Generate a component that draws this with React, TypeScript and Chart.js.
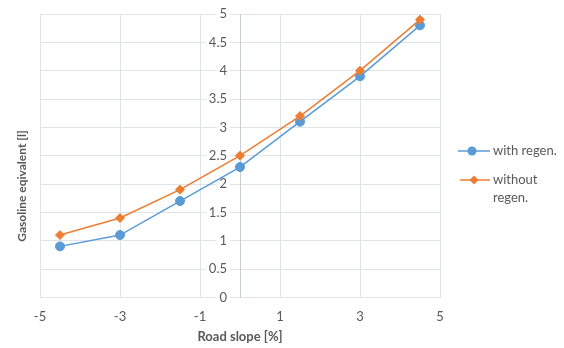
import { useEffect, useRef } from "react";
import { Chart, registerables } from "chart.js";

Chart.register(...registerables);

// Road slope [%] at which fuel use was evaluated
const slopes = [-4.5, -3, -1.5, 0, 1.5, 3, 4.5];
// Gasoline equivalent [l]
const withRegen = [0.9, 1.1, 1.7, 2.3, 3.1, 3.9, 4.8];
const withoutRegen = [1.1, 1.4, 1.9, 2.5, 3.2, 4.0, 4.9];

const seriesNames = ["with regen.", "without regen."];
const legendLines = [["with regen."], ["without", "regen."]];
const xTitle = "Road slope [%]";
const yTitle = "Gasoline eqivalent [l]";

const BLUE = "#5b9bd5";
const ORANGE = "#ed7d31";
const TEXT = "#595959";
const GRID = "#e0e3ea";
const FONT = "Lato, 'Open Sans', sans-serif";
// two en spaces keep the value labels clear of the centred axis line
const LABEL_GAP = "\u2002\u2002";

function drawMarker(ctx: CanvasRenderingContext2D, style: string, x: number, y: number, r: number) {
  ctx.beginPath();
  if (style === "circle") {
    ctx.arc(x, y, r, 0, Math.PI * 2);
  } else {
    ctx.moveTo(x, y - r);
    ctx.lineTo(x + r, y);
    ctx.lineTo(x, y + r);
    ctx.lineTo(x - r, y);
    ctx.closePath();
  }
  ctx.fill();
}

// Draws both axis titles and the wrapped legend on the right
const sideTextPlugin = {
  id: "sideText",
  afterDraw(chart: Chart) {
    const { ctx, chartArea } = chart;
    ctx.save();

    ctx.fillStyle = TEXT;
    ctx.textAlign = "center";
    ctx.textBaseline = "middle";

    ctx.font = `bold 13px ${FONT}`;
    ctx.fillText(xTitle, (chartArea.left + chartArea.right) / 2, chartArea.bottom + 39);

    ctx.font = `bold 12px ${FONT}`;
    ctx.translate(22, chartArea.top + 172);
    ctx.rotate(-Math.PI / 2);
    ctx.fillText(yTitle, 0, 0);
    ctx.setTransform(1, 0, 0, 1, 0, 0);

    const colors = [BLUE, ORANGE];
    const styles = ["circle", "rectRot"];
    const rowY = [chartArea.top + 137, chartArea.top + 166];
    const x0 = chartArea.right + 18;
    ctx.font = `13px ${FONT}`;
    ctx.textAlign = "left";
    legendLines.forEach((lines, i) => {
      const y = rowY[i];
      ctx.strokeStyle = colors[i];
      ctx.lineWidth = 1.5;
      ctx.beginPath();
      ctx.moveTo(x0 + (i === 0 ? 0 : 2), y);
      ctx.lineTo(x0 + 32, y);
      ctx.stroke();
      ctx.fillStyle = colors[i];
      drawMarker(ctx, styles[i], x0 + (i === 0 ? 14 : 16), y, 4.5);
      ctx.fillStyle = TEXT;
      lines.forEach((t, j) => ctx.fillText(t, x0 + 35, y + j * 18));
    });
    ctx.restore();
  },
};

export default function App() {
  const canvasRef = useRef<HTMLCanvasElement>(null);

  useEffect(() => {
    if (!canvasRef.current) return;
    const chart = new Chart(canvasRef.current, {
      type: "scatter",
      data: {
        datasets: [
          {
            label: seriesNames[1],
            data: slopes.map((x, i) => ({ x, y: withoutRegen[i] })),
            showLine: true,
            borderColor: ORANGE,
            backgroundColor: ORANGE,
            borderWidth: 1.5,
            pointStyle: "rectRot",
            pointRadius: 4.5,
            pointBorderWidth: 1,
          },
          {
            label: seriesNames[0],
            data: slopes.map((x, i) => ({ x, y: withRegen[i] })),
            showLine: true,
            borderColor: BLUE,
            backgroundColor: BLUE,
            borderWidth: 1.5,
            pointStyle: "circle",
            pointRadius: 4.5,
            pointBorderWidth: 1,
          },
        ],
      },
      options: {
        animation: false,
        responsive: true,
        maintainAspectRatio: false,
        layout: { padding: { left: 40, right: 124, top: 14, bottom: 11 } },
        plugins: {
          legend: { display: false },
          tooltip: { enabled: false },
        },
        scales: {
          x: {
            type: "linear",
            min: -5,
            max: 5,
            ticks: { stepSize: 2, color: TEXT, padding: 12, font: { family: FONT, size: 13 } },
            grid: { color: GRID, drawTicks: false },
            border: { color: GRID },
          },
          y: {
            type: "linear",
            position: { x: 0 },
            min: 0,
            max: 5,
            ticks: {
              stepSize: 0.5,
              color: TEXT,
              font: { family: FONT, size: 13 },
              callback: (v: number | string) => `${Number(v)}${LABEL_GAP}`,
              showLabelBackdrop: true,
              backdropColor: "#ffffff",
              backdropPadding: { top: 0, bottom: 0, left: 3, right: -10 },
            },
            grid: { color: GRID, drawTicks: false },
            border: { color: "#c8cdd6" },
          },
        },
      },
      plugins: [sideTextPlugin],
    });
    return () => chart.destroy();
  }, []);

  return (
    <div style={{ position: "fixed", left: 0, top: 0, width: 564, height: 348, background: "#fff" }}>
      <canvas ref={canvasRef} />
    </div>
  );
}
